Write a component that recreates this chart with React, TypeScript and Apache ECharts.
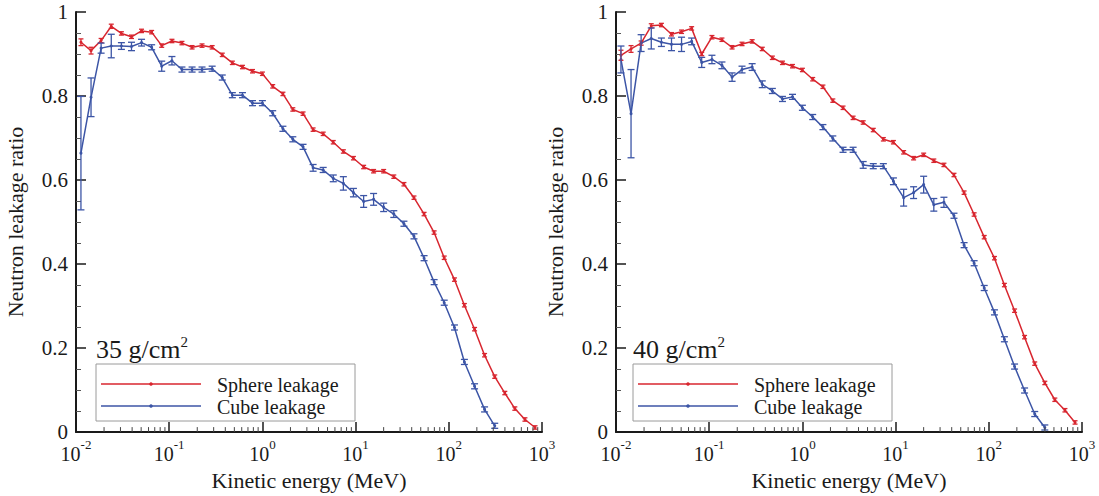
import { useEffect, useRef } from "react";
import * as echarts from "echarts";

// Kinetic energy (MeV) of each point
const energy = [
  0.0113, 0.0145, 0.0186, 0.0239, 0.0307, 0.0394, 0.0505, 0.0648, 0.0831, 0.107,
  0.137, 0.176, 0.225, 0.289, 0.371, 0.476, 0.611, 0.783, 1.0, 1.29,
  1.66, 2.12, 2.73, 3.5, 4.49, 5.76, 7.39, 9.48, 12.2, 15.6,
  20.0, 25.7, 33.0, 42.3, 54.3, 69.6, 89.3, 115, 147, 189,
  242, 311, 399, 511, 656, 842,
];

// 35 g/cm2 panel
const sphere35 = [
  0.928, 0.908, 0.932, 0.966, 0.949, 0.941, 0.955, 0.952, 0.92, 0.931,
  0.926, 0.916, 0.92, 0.916, 0.898, 0.879, 0.869, 0.859, 0.853, 0.823,
  0.805, 0.768, 0.758, 0.72, 0.71, 0.69, 0.668, 0.652, 0.631, 0.621,
  0.621, 0.608, 0.59, 0.558, 0.519, 0.475, 0.415, 0.363, 0.302, 0.245,
  0.183, 0.132, 0.093, 0.056, 0.03, 0.011,
];
const sphere35Err = [
  0.008, 0.008, 0.005, 0.005, 0.004, 0.004, 0.004, 0.004, 0.004, 0.004,
  0.004, 0.004, 0.004, 0.004, 0.004, 0.004, 0.004, 0.004, 0.004, 0.004,
  0.004, 0.004, 0.004, 0.004, 0.004, 0.004, 0.004, 0.004, 0.004, 0.004,
  0.004, 0.004, 0.004, 0.004, 0.004, 0.004, 0.004, 0.004, 0.004, 0.004,
  0.004, 0.004, 0.004, 0.004, 0.004, 0.004,
];
const cube35 = [
  0.664, 0.797, 0.914, 0.919, 0.919, 0.918, 0.927, 0.916, 0.871, 0.884,
  0.863, 0.863, 0.863, 0.865, 0.844, 0.802, 0.802, 0.783, 0.783, 0.759,
  0.722, 0.697, 0.679, 0.629, 0.624, 0.604, 0.592, 0.57, 0.549, 0.554,
  0.535, 0.519, 0.496, 0.466, 0.414, 0.357, 0.308, 0.249, 0.167, 0.109,
  0.054, 0.015,
];
const cube35Err = [
  0.135, 0.046, 0.012, 0.028, 0.008, 0.01, 0.008, 0.006, 0.012, 0.01,
  0.006, 0.006, 0.006, 0.006, 0.006, 0.006, 0.006, 0.006, 0.006, 0.006,
  0.006, 0.006, 0.006, 0.008, 0.006, 0.008, 0.016, 0.01, 0.014, 0.014,
  0.01, 0.008, 0.006, 0.006, 0.006, 0.006, 0.006, 0.006, 0.006, 0.006,
  0.006, 0.006,
];

// 40 g/cm2 panel
const sphere40 = [
  0.897, 0.912, 0.926, 0.967, 0.969, 0.947, 0.953, 0.961, 0.9, 0.94,
  0.934, 0.916, 0.924, 0.93, 0.912, 0.891, 0.879, 0.871, 0.862, 0.84,
  0.822, 0.789, 0.772, 0.748, 0.737, 0.719, 0.697, 0.69, 0.666, 0.652,
  0.66, 0.646, 0.636, 0.612, 0.57, 0.518, 0.464, 0.414, 0.35, 0.289,
  0.226, 0.163, 0.117, 0.077, 0.052, 0.023,
];
const sphere40Err = [
  0.012, 0.008, 0.005, 0.005, 0.004, 0.004, 0.004, 0.004, 0.004, 0.004,
  0.004, 0.004, 0.004, 0.004, 0.004, 0.004, 0.004, 0.004, 0.004, 0.004,
  0.004, 0.004, 0.004, 0.004, 0.004, 0.004, 0.004, 0.004, 0.004, 0.004,
  0.004, 0.004, 0.004, 0.004, 0.004, 0.004, 0.004, 0.004, 0.004, 0.004,
  0.004, 0.004, 0.004, 0.004, 0.004, 0.004,
];
const cube40 = [
  0.887, 0.758, 0.926, 0.937, 0.928, 0.923, 0.923, 0.93, 0.88, 0.887,
  0.873, 0.845, 0.863, 0.869, 0.828, 0.812, 0.793, 0.798, 0.772, 0.75,
  0.726, 0.699, 0.672, 0.672, 0.636, 0.633, 0.633, 0.597, 0.558, 0.57,
  0.589, 0.541, 0.547, 0.515, 0.445, 0.402, 0.343, 0.285, 0.221, 0.156,
  0.099, 0.043, 0.011,
];
const cube40Err = [
  0.032, 0.105, 0.02, 0.025, 0.01, 0.015, 0.017, 0.008, 0.012, 0.01,
  0.008, 0.01, 0.008, 0.008, 0.008, 0.006, 0.006, 0.006, 0.006, 0.006,
  0.006, 0.006, 0.006, 0.006, 0.008, 0.006, 0.006, 0.008, 0.02, 0.014,
  0.02, 0.015, 0.012, 0.006, 0.006, 0.006, 0.006, 0.006, 0.006, 0.006,
  0.006, 0.006, 0.006,
];

const xMinorTicks = [
  0.02, 0.03, 0.04, 0.05, 0.06, 0.07, 0.08, 0.09,
  0.2, 0.3, 0.4, 0.5, 0.6, 0.7, 0.8, 0.9,
  2, 3, 4, 5, 6, 7, 8, 9,
  20, 30, 40, 50, 60, 70, 80, 90,
  200, 300, 400, 500, 600, 700, 800, 900,
];

const panelDepths = ["35", "40"];
const seriesNames = ["Sphere leakage", "Cube leakage"];
const yAxisTitle = "Neutron leakage ratio";
const xAxisTitle = "Kinetic energy (MeV)";

const RED = "#d8262f";
const BLUE = "#3c55a6";
const INK = "#1a1a1a";
const FONT = "Liberation Serif";

const panels = [
  { sphere: sphere35, sphereErr: sphere35Err, cube: cube35, cubeErr: cube35Err, gridLeft: 76, boxLeft: 96 },
  { sphere: sphere40, sphereErr: sphere40Err, cube: cube40, cubeErr: cube40Err, gridLeft: 616, boxLeft: 633 },
];

const GRID_TOP = 12;
const GRID_W = 466;
const GRID_H = 426;

function errorRender(color: string, cap: number) {
  return (params: any, api: any) => {
    const x = api.value(0);
    const y = api.value(1);
    const e = api.value(2);
    const hi = api.coord([x, y + e]);
    const lo = api.coord([x, y - e]);
    const style = { stroke: color, lineWidth: 1.3 };
    return {
      type: "group",
      children: [
        { type: "line", shape: { x1: hi[0], y1: hi[1], x2: lo[0], y2: lo[1] }, style },
        { type: "line", shape: { x1: hi[0] - cap, y1: hi[1], x2: hi[0] + cap, y2: hi[1] }, style },
        { type: "line", shape: { x1: lo[0] - cap, y1: lo[1], x2: lo[0] + cap, y2: lo[1] }, style },
      ],
    };
  };
}

function minorTickRender(params: any, api: any) {
  const p = api.coord([api.value(0), 0]);
  return {
    type: "line",
    shape: { x1: p[0], y1: p[1], x2: p[0], y2: p[1] - 5 },
    style: { stroke: "#444", lineWidth: 1 },
  };
}

export default function App() {
  const ref = useRef<HTMLDivElement>(null);

  useEffect(() => {
    if (!ref.current) return;
    const chart = echarts.init(ref.current, undefined, { renderer: "svg" });

    const grids: any[] = [];
    const xAxes: any[] = [];
    const yAxes: any[] = [];
    const series: any[] = [];
    const graphics: any[] = [];

    panels.forEach((p, k) => {
      grids.push({ left: p.gridLeft, top: GRID_TOP, width: GRID_W, height: GRID_H });
      xAxes.push({
        type: "log",
        logBase: 10,
        gridIndex: k,
        min: 0.01,
        max: 1000,
        name: xAxisTitle,
        nameLocation: "middle",
        nameGap: 30,
        nameTextStyle: { fontFamily: FONT, fontSize: 22, color: INK },
        axisLine: { show: true, lineStyle: { color: INK, width: 2 } },
        axisTick: { show: true, inside: true, length: 10, lineStyle: { color: INK, width: 1.5 } },
        splitLine: { show: false },
        axisLabel: {
          margin: 6,
          formatter: (v: number) => `{b|10}{s|${Math.round(Math.log10(v))}}`,
          rich: {
            b: { fontFamily: FONT, fontSize: 20, color: INK, lineHeight: 26, verticalAlign: "bottom" },
            s: { fontFamily: FONT, fontSize: 13, color: INK, lineHeight: 14, verticalAlign: "top" },
          },
        },
      });
      yAxes.push({
        type: "value",
        gridIndex: k,
        min: 0,
        max: 1,
        interval: 0.2,
        name: yAxisTitle,
        nameLocation: "middle",
        nameGap: 50,
        nameTextStyle: { fontFamily: FONT, fontSize: 22, color: INK },
        axisLine: { show: true, lineStyle: { color: INK, width: 2 } },
        axisTick: { show: true, inside: true, length: 10, lineStyle: { color: INK, width: 1.5 } },
        minorTick: { show: true, splitNumber: 4, length: 5, lineStyle: { color: "#555", width: 1 } },
        splitLine: { show: false },
        axisLabel: { fontFamily: FONT, fontSize: 21, color: INK, margin: 8 },
      });

      const groups = [
        { name: seriesNames[0], vals: p.sphere, errs: p.sphereErr, color: RED, cap: 2.5 },
        { name: seriesNames[1], vals: p.cube, errs: p.cubeErr, color: BLUE, cap: 3.5 },
      ];
      groups.forEach((g) => {
        series.push({
          type: "line",
          name: g.name,
          xAxisIndex: k,
          yAxisIndex: k,
          data: g.vals.map((v, i) => [energy[i], v]),
          symbol: "circle",
          symbolSize: 3,
          showSymbol: true,
          itemStyle: { color: g.color },
          lineStyle: { color: g.color, width: 1.5 },
          z: 3,
        });
        series.push({
          type: "custom",
          name: g.name + " error",
          xAxisIndex: k,
          yAxisIndex: k,
          data: g.vals.map((v, i) => [energy[i], v, g.errs[i]]),
          encode: { x: 0, y: 1 },
          renderItem: errorRender(g.color, g.cap),
          z: 4,
        });
      });
      series.push({
        type: "custom",
        name: "minor ticks",
        xAxisIndex: k,
        yAxisIndex: k,
        data: xMinorTicks.map((v) => [v, 0]),
        encode: { x: 0, y: 1 },
        renderItem: minorTickRender,
        clip: false,
        silent: true,
        z: 5,
      });

      // depth label
      graphics.push({
        type: "text",
        left: p.boxLeft,
        top: 334,
        style: {
          text: `{a|${panelDepths[k]} g/cm}{s|2}`,
          rich: {
            a: { fontFamily: FONT, fontSize: 26, fill: INK, lineHeight: 28, verticalAlign: "bottom" },
            s: { fontFamily: FONT, fontSize: 15, fill: INK, lineHeight: 14, verticalAlign: "top" },
          },
        },
      });
      // legend box
      const bx = p.boxLeft;
      graphics.push({
        type: "rect",
        shape: { x: bx, y: 364, width: 259, height: 57 },
        style: { fill: "#fff", stroke: "#9a9a9a", lineWidth: 1 },
        z: 10,
      });
      [RED, BLUE].forEach((c, j) => {
        const yy = 384 + j * 22;
        graphics.push({
          type: "line",
          shape: { x1: bx + 5, y1: yy, x2: bx + 105, y2: yy },
          style: { stroke: c, lineWidth: 1.5 },
          z: 11,
        });
        graphics.push({
          type: "circle",
          shape: { cx: bx + 55, cy: yy, r: 1.8 },
          style: { fill: c },
          z: 11,
        });
        graphics.push({
          type: "text",
          x: bx + 121,
          y: yy + 1,
          style: {
            text: seriesNames[j],
            fontFamily: FONT,
            fontSize: 20,
            fill: INK,
            verticalAlign: "middle",
          },
          z: 11,
        });
      });
    });

    chart.setOption({
      animation: false,
      backgroundColor: "#fff",
      grid: grids,
      xAxis: xAxes,
      yAxis: yAxes,
      series,
      graphic: graphics,
    });

    return () => chart.dispose();
  }, []);

  return <div ref={ref} style={{ width: 1099, height: 496, position: "absolute", left: 0, top: 0 }} />;
}
